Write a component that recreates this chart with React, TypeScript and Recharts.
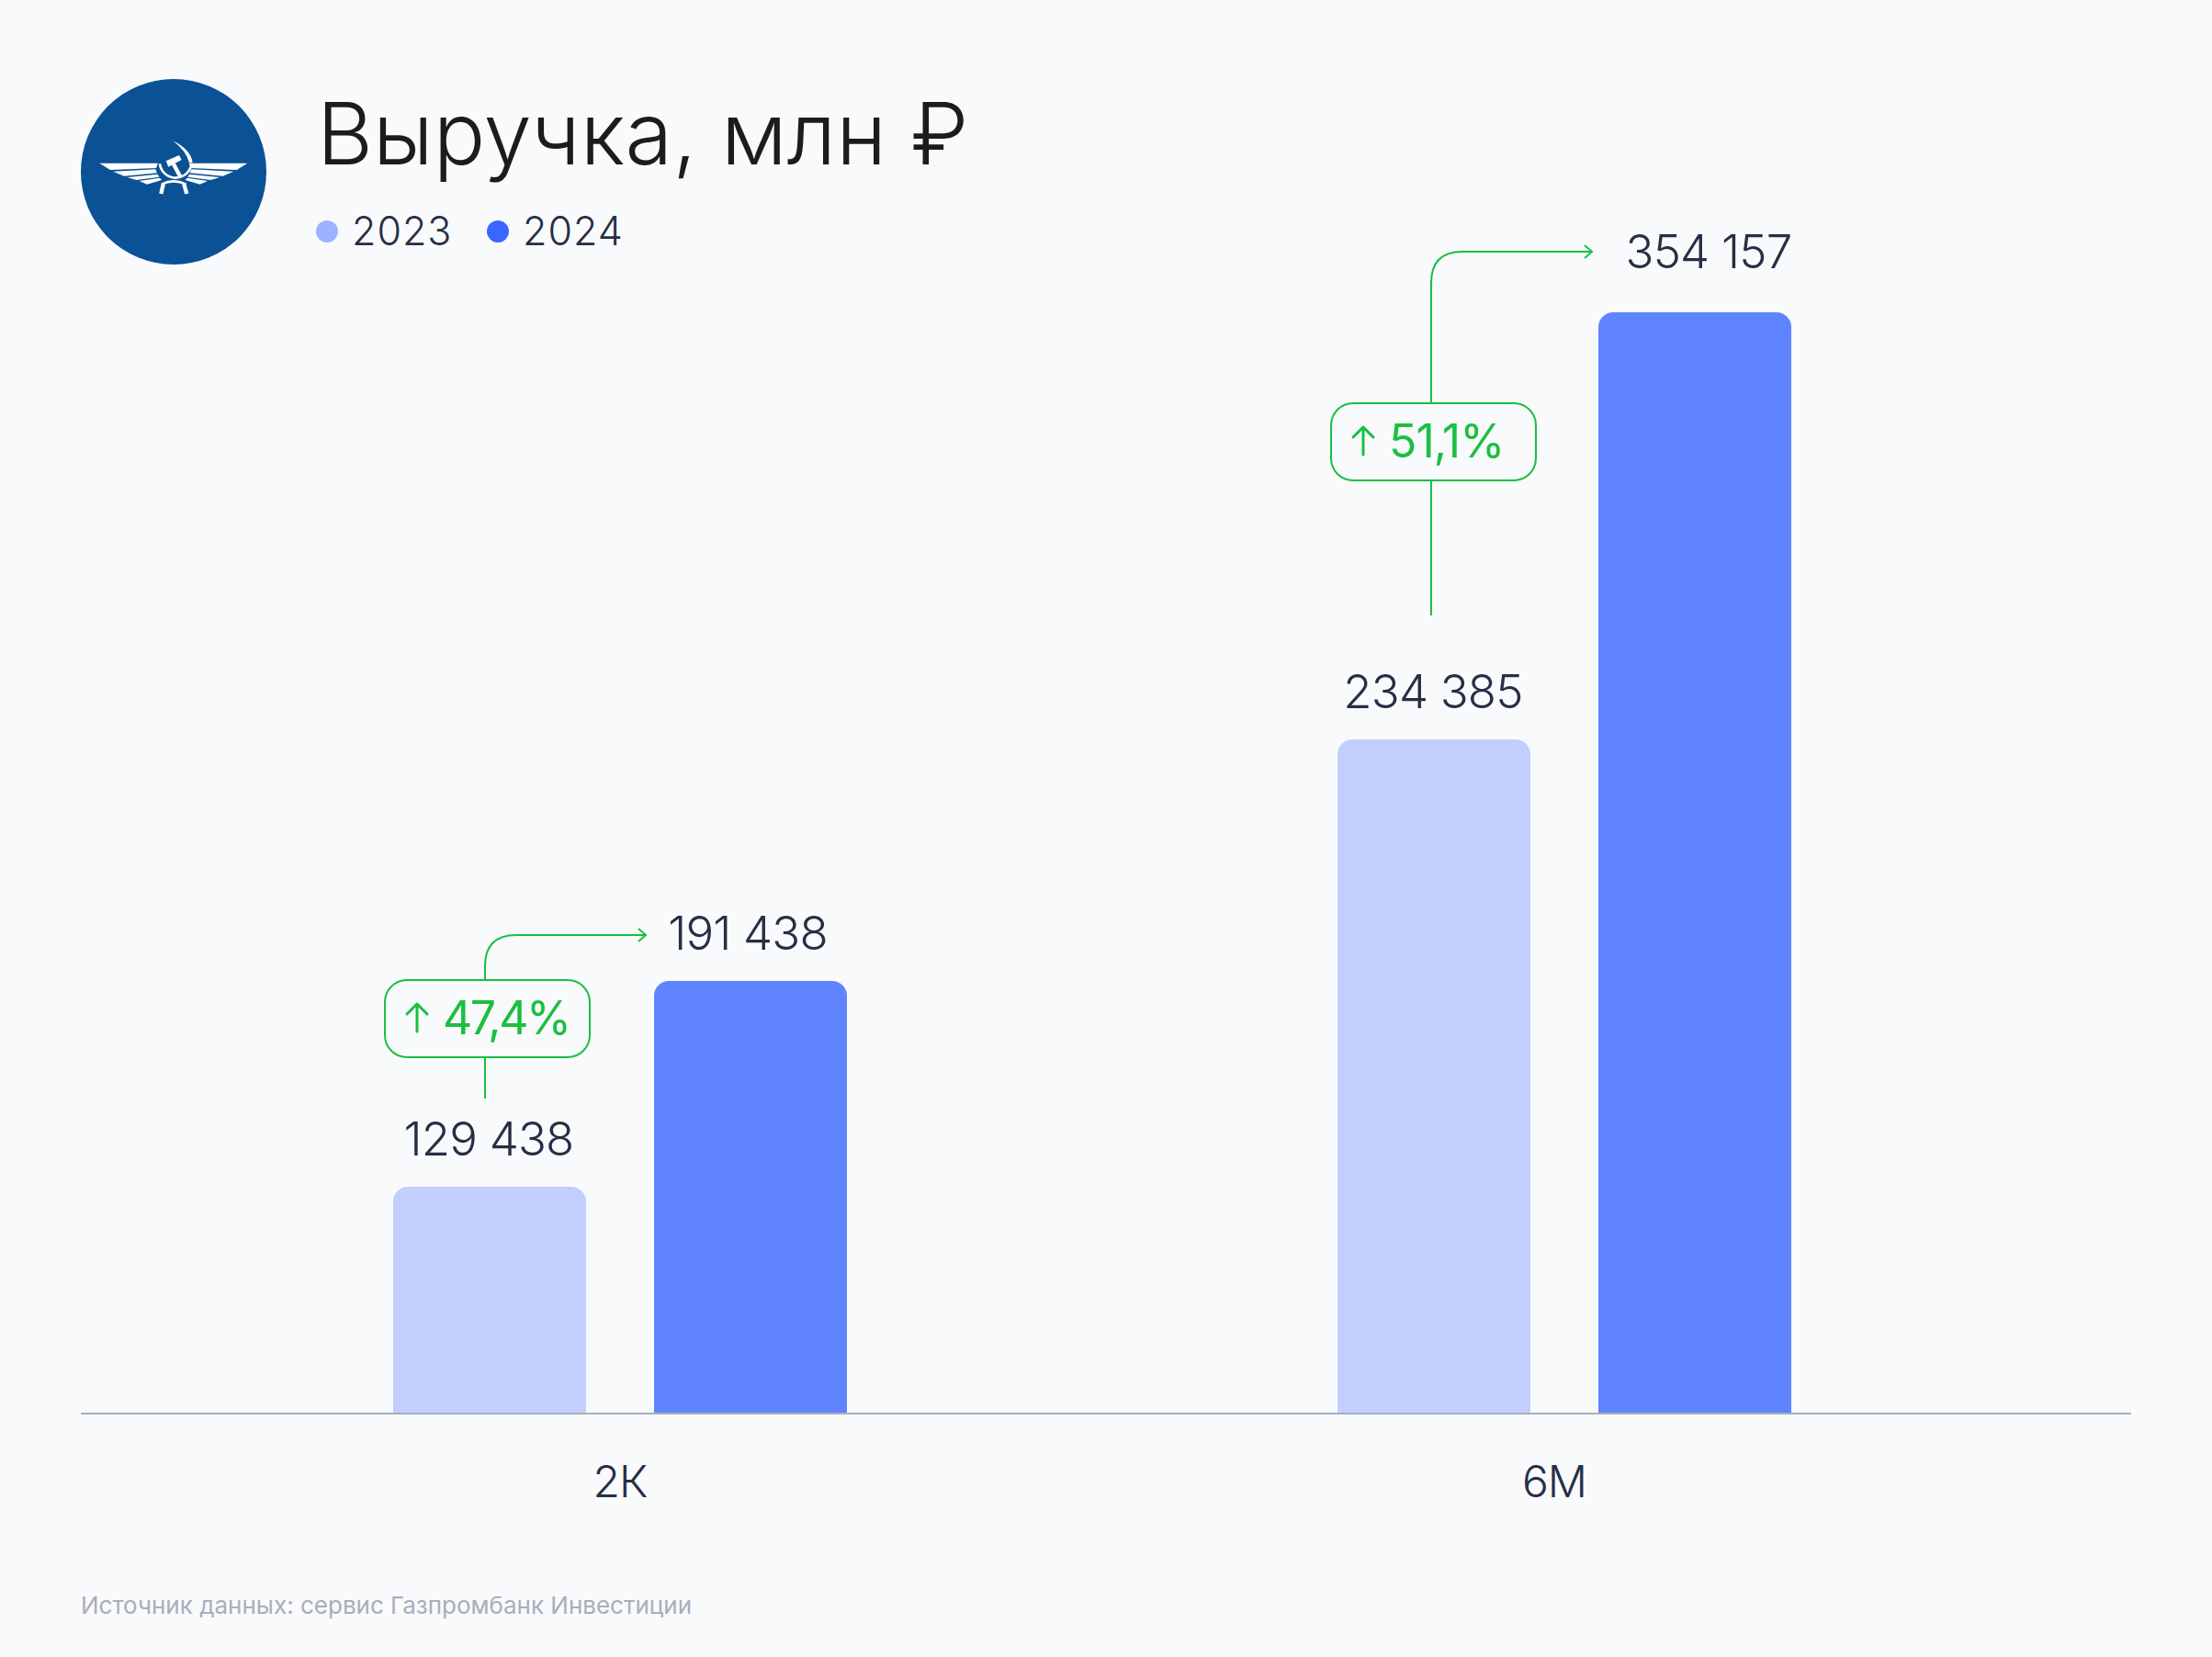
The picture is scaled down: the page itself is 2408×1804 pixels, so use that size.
import React from 'react';
import { BarChart, Bar, XAxis, YAxis, LabelList, Legend } from 'recharts';

// Data
const categories = ['2К', '6М'];
const seriesNames = ['2023', '2024'];
const printed2023 = [129438, 234385];
const printed2024 = [191438, 354157];
// The bars in the reference are not proportional to their printed values,
// so the plotted heights are read off the picture separately.
const barHeight2023 = [248, 735];
const barHeight2024 = [472, 1200];
const growthLabels = ['47,4%', '51,1%'];
const title = 'Выручка, млн ₽';
const source = 'Источник данных: сервис Газпромбанк Инвестиции';

const rows = categories.map((c, i) => ({
  category: c,
  h2023: barHeight2023[i],
  h2024: barHeight2024[i],
  v2023: printed2023[i],
  v2024: printed2024[i],
}));

// Layout and style
const FONT = 'Inter, sans-serif';
const INK = '#272E45';
const GREEN = '#1BBF41';
const BG = '#F9FAFC';
const C23 = '#9DB3FF';
const C24 = '#3A66FF';
const label2023 = [{ dx: -1, gap: 34 }, { dx: -1, gap: 34 }];
const label2024 = [{ dx: -3, gap: 34 }, { dx: 15, gap: 48 }];
const tickDx = [0, -11];
const growthSpacing = [-2.5, -1];
const connectors = [
  { x: 528, bottom: 1196, pillTop: 1067, pillBottom: 1151, top: 1018, end: 703, pillX: 419 },
  { x: 1558, bottom: 670, pillTop: 439, pillBottom: 523, top: 274, end: 1733, pillX: 1449 },
];

const fmt = (v: number) => String(v).replace(/(\d{3})$/, ' $1');

const valueLabel = (offsets: { dx: number; gap: number }[]) => (p: any) => {
  const o = offsets[p.index];
  return (
    <text x={p.x + p.width / 2 + o.dx} y={p.y - o.gap} textAnchor="middle" fontFamily={FONT} fontWeight={300} fontSize={51} letterSpacing={-0.8} fill={INK}>
      {fmt(p.value)}
    </text>
  );
};

const Tick = (p: any) => (
  <text x={p.x + tickDx[p.index]} y={1630} textAnchor="middle" fontFamily={FONT} fontWeight={300} fontSize={48} letterSpacing={-1} fill={INK}>
    {p.payload.value}
  </text>
);

const LegendContent = () => (
  <div style={{ position: 'relative', width: 400, height: 50, fontFamily: FONT, fontWeight: 300, fontSize: 43, letterSpacing: 1, color: INK, lineHeight: '50px' }}>
    {seriesNames.map((n, i) => (
      <React.Fragment key={n}>
        <span style={{ position: 'absolute', left: i === 0 ? 0 : 186, top: 13, width: 24, height: 24, borderRadius: 12, background: i === 0 ? C23 : C24 }} />
        <span style={{ position: 'absolute', left: i === 0 ? 39 : 225, top: -1 }}>{n}</span>
      </React.Fragment>
    ))}
  </div>
);

const Logo = () => (
  <g>
    <circle cx={189} cy={187} r={101} fill="#0B5195" />
    <g transform="translate(60,70) scale(0.3333)" fill="#fff">
      {[1, -1].map((s) => (
        <g key={s} transform={s === 1 ? undefined : 'translate(773,0) scale(-1,1)'}>
          <polygon points="145,323 336,323 330,339 180,345" />
          <polygon points="190,350 328,343 333,355 225,365" />
          <polygon points="235,369 335,359 340,368 265,378" />
          <polygon points="275,381 342,371 348,378 300,392" />
        </g>
      ))}
      <path d="M385,250 Q445,280 449,322 L438,322 Q430,285 385,250 Z" />
      <path d="M342,325 A52,52 0 0 0 443,335" fill="none" stroke="#fff" strokeWidth={8} />
      <polygon points="362,316 405,297 413,312 370,335" />
      <polygon points="380,327 392,322 415,365 403,370" />
      <path d="M348,392 Q387,372 427,392" fill="none" stroke="#fff" strokeWidth={8} />
      <path d="M353,392 L346,423 M421,392 L430,423" fill="none" stroke="#fff" strokeWidth={13} />
    </g>
  </g>
);

const Growth = ({ c, text, spacing }: { c: (typeof connectors)[number]; text: string; spacing: number }) => {
  const r = 34;
  return (
    <g>
      <path
        d={`M${c.x},${c.bottom} V${c.pillBottom} M${c.x},${c.pillTop} V${c.top + r} Q${c.x},${c.top} ${c.x + r},${c.top} H${c.end} M${c.end - 8},${c.top - 7} L${c.end},${c.top} L${c.end - 8},${c.top + 7}`}
        fill="none" stroke={GREEN} strokeWidth={2}
      />
      <rect x={c.pillX} y={c.pillTop} width={223} height={c.pillBottom - c.pillTop} rx={24} fill="none" stroke={GREEN} strokeWidth={2} />
      <path
        d={`M${c.pillX + 35},${c.pillTop + 56} V${c.pillTop + 26} M${c.pillX + 24},${c.pillTop + 37} L${c.pillX + 35},${c.pillTop + 26} L${c.pillX + 46},${c.pillTop + 37}`}
        fill="none" stroke={GREEN} strokeWidth={3} strokeLinecap="round" strokeLinejoin="round"
      />
      <text x={c.pillX + 63} y={c.pillTop + 59} fontFamily={FONT} fontWeight={400} fontSize={50} letterSpacing={spacing} fill={GREEN}>{text}</text>
    </g>
  );
};

export default function App() {
  return (
    <div style={{ position: 'absolute', left: 0, top: 0, width: 2408, height: 1804, background: BG, overflow: 'hidden' }}>
      <BarChart
        width={2408}
        height={1804}
        data={rows}
        margin={{ top: 100, right: 88, bottom: 0, left: 88 }}
        barSize={210}
        barGap={74}
      >
        <XAxis
          dataKey="category"
          height={264}
          padding={{ left: 73, right: 103 }}
          tickLine={false}
          tick={<Tick />}
          axisLine={{ stroke: '#A9AFBA', strokeWidth: 2, transform: 'translate(0,-1)' }}
        />
        <YAxis hide domain={[0, 1440]} />
        <Legend
          layout="horizontal"
          verticalAlign="middle"
          align="center"
          wrapperStyle={{ left: 344, top: 227, width: 400 }}
          content={<LegendContent />}
        />
        <Bar dataKey="h2023" name={seriesNames[0]} fill={C23} fillOpacity={0.6} radius={[16, 16, 0, 0]} isAnimationActive={false}>
          <LabelList dataKey="v2023" content={valueLabel(label2023)} />
        </Bar>
        <Bar dataKey="h2024" name={seriesNames[1]} fill={C24} fillOpacity={0.8} radius={[16, 16, 0, 0]} isAnimationActive={false}>
          <LabelList dataKey="v2024" content={valueLabel(label2024)} />
        </Bar>
        <Logo />
        <text x={345} y={179} fontFamily={FONT} fontWeight={300} fontSize={94} letterSpacing={0} fill="#1C1C18">{title}</text>
        {connectors.map((c, i) => <Growth key={i} c={c} text={growthLabels[i]} spacing={growthSpacing[i]} />)}
        <text x={88} y={1757} fontFamily={FONT} fontWeight={400} fontSize={26} letterSpacing={0} fill="#A8AFBA">{source}</text>
      </BarChart>
    </div>
  );
}
